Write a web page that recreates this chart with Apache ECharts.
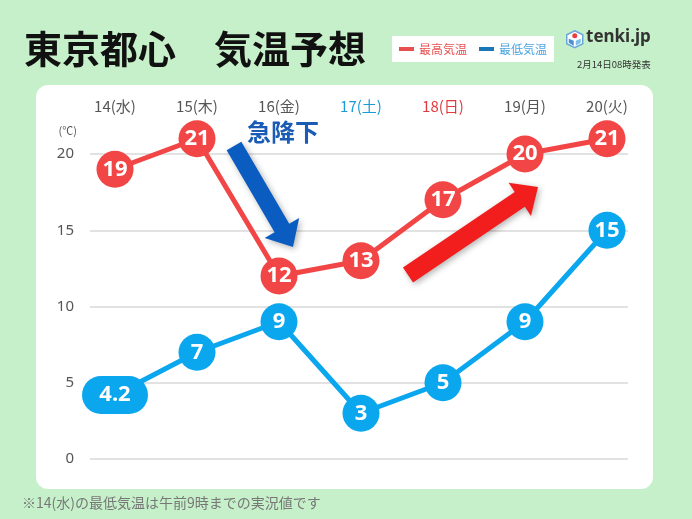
<!DOCTYPE html>
<html>
<head>
<meta charset="utf-8">
<script src="https://cdn.jsdelivr.net/npm/echarts@6/dist/echarts.min.js"></script>
<style>html,body{margin:0;padding:0;background:#c5f0c9;}#c{width:692px;height:519px;}</style>
</head>
<body>
<div id="c"></div>
<script>
const categories = ['14(水)', '15(木)', '16(金)', '17(土)', '18(日)', '19(月)', '20(火)'];
const categoryColors = ['#555555', '#555555', '#555555', '#1a9ad6', '#e0393e', '#555555', '#555555'];
const highTemps = [19, 21, 12, 13, 17, 20, 21];
const lowTemps = [4.2, 7, 9, 3, 5, 9, 15];
const yMin = 0, yMax = 20, yStep = 5;

const JP = '"Noto Sans CJK JP", "Noto Sans", sans-serif';
const RED = '#f24545';
const BLUE = '#0aa6ee';

function arrow(sx, sy, tx, ty, w, hw, hl) {
  const dx = tx - sx, dy = ty - sy;
  const L = Math.sqrt(dx * dx + dy * dy);
  const ux = dx / L, uy = dy / L;
  const nx = -uy, ny = ux;
  const bx = tx - ux * hl, by = ty - uy * hl;
  return [
    [sx + nx * w / 2, sy + ny * w / 2],
    [bx + nx * w / 2, by + ny * w / 2],
    [bx + nx * hw / 2, by + ny * hw / 2],
    [tx, ty],
    [bx - nx * hw / 2, by - ny * hw / 2],
    [bx - nx * w / 2, by - ny * w / 2],
    [sx - nx * w / 2, sy - ny * w / 2]
  ];
}

const chart = echarts.init(document.getElementById('c'));
const pill = 'path://M19,0 L47,0 A19,19 0 0 1 47,38 L19,38 A19,19 0 0 1 19,0 Z';

chart.setOption({
  backgroundColor: '#c5f0c9',
  animation: false,
  title: {
    text: '東京都心　気温予想',
    left: 19, top: 25,
    textStyle: { fontFamily: JP, fontSize: 38, fontWeight: 'bold', color: '#111' }
  },
  legend: {
    left: 392, top: 36,
    backgroundColor: '#ffffff',
    padding: [7, 7],
    itemGap: 12,
    itemWidth: 15, itemHeight: 4,
    icon: 'rect',
    textStyle: { fontFamily: JP, fontSize: 12 },
    data: [
      { name: '最高気温', itemStyle: { color: '#e8504f' }, textStyle: { color: '#e8504f' } },
      { name: '最低気温', itemStyle: { color: '#1b78b8' }, textStyle: { color: '#4aa5e0' } }
    ]
  },
  grid: [
    { left: 90, right: 64, top: 154, bottom: 60 },
    { left: 74, right: 44, top: 154, bottom: 60 }
  ],
  xAxis: [
    { type: 'category', gridIndex: 0, data: categories, show: false },
    {
      type: 'category', gridIndex: 1, position: 'top', boundaryGap: true,
      data: categories.map((c, i) => ({ value: c, textStyle: { color: categoryColors[i] } })),
      axisLine: { show: false }, axisTick: { show: false },
      axisLabel: { margin: 40, fontSize: 15, fontFamily: JP }
    }
  ],
  yAxis: [
    {
      type: 'value', gridIndex: 0, min: yMin, max: yMax, interval: yStep,
      axisLine: { show: false }, axisTick: { show: false },
      axisLabel: { margin: 16, fontSize: 15, color: '#555', fontFamily: 'Noto Sans, sans-serif' },
      splitLine: { lineStyle: { color: '#d8d8d8', width: 1.5 } },
      name: '(℃)', nameGap: 18,
      nameTextStyle: { fontSize: 11, color: '#555', align: 'right', padding: [0, 13, 0, 0], fontFamily: JP }
    },
    { type: 'value', gridIndex: 1, min: yMin, max: yMax, interval: yStep, show: false }
  ],
  series: [
    {
      name: '最高気温', type: 'line', xAxisIndex: 1, yAxisIndex: 1, clip: false, z: 4,
      data: highTemps,
      color: RED,
      lineStyle: { width: 5, color: RED },
      symbol: 'circle', symbolSize: 37,
      itemStyle: { color: RED },
      label: {
        show: true, position: 'inside', color: '#fff', fontSize: 22, fontWeight: 'bold',
        fontFamily: 'Noto Sans, sans-serif'
      }
    },
    {
      name: '最低気温', type: 'line', xAxisIndex: 1, yAxisIndex: 1, clip: false, z: 3,
      data: lowTemps.map((v, i) => i === 0 ? { value: v, symbol: pill, symbolSize: [66, 38] } : v),
      color: BLUE,
      lineStyle: { width: 5, color: BLUE },
      symbol: 'circle', symbolSize: 37,
      itemStyle: { color: BLUE },
      label: {
        show: true, position: 'inside', color: '#fff', fontSize: 22, fontWeight: 'bold',
        fontFamily: 'Noto Sans, sans-serif'
      }
    }
  ],
  graphic: [
    {
      type: 'rect', z: -10, silent: true,
      shape: { x: 36, y: 85, width: 617, height: 404, r: 12 },
      style: { fill: '#ffffff' }
    },
    {
      type: 'polygon', z: 1,
      shape: { points: arrow(234, 146, 293, 247, 17, 40, 22) },
      style: { fill: '#0a5cc0', shadowBlur: 6, shadowColor: 'rgba(0,0,0,0.3)', shadowOffsetX: 2, shadowOffsetY: 2 }
    },
    {
      type: 'polygon', z: 1,
      shape: { points: arrow(408, 275, 538, 187, 18, 40, 22) },
      style: { fill: '#f21e1e', shadowBlur: 6, shadowColor: 'rgba(0,0,0,0.3)', shadowOffsetX: 2, shadowOffsetY: 2 }
    },
    {
      type: 'text', z: 5, left: 247, top: 120,
      style: { text: '急降下', fill: '#1a5bb5', font: 'bold 24px ' + JP }
    },
    {
      type: 'text', z: 5, left: 22, top: 496,
      style: { text: '※14(水)の最低気温は午前9時までの実況値です', fill: '#777', font: '14px ' + JP }
    },
    {
      type: 'group', left: 566, top: 30,
      children: [
        { type: 'polygon', shape: { points: [[8, 0], [16, 4], [16, 13], [8, 17], [0, 13], [0, 4]] }, style: { fill: '#ffffff', stroke: '#6aa8dc', lineWidth: 1.5 } },
        { type: 'circle', shape: { cx: 8, cy: 5, r: 2.5 }, style: { fill: '#e84040' } },
        { type: 'polygon', shape: { points: [[2, 8], [7, 10], [7, 15], [2, 12]] }, style: { fill: '#4a90d0' } },
        { type: 'polygon', shape: { points: [[14, 8], [9, 10], [9, 15], [14, 12]] }, style: { fill: '#7ac0e8' } }
      ]
    },
    {
      type: 'text', left: 586, top: 29,
      style: { text: 'tenki.jp', fill: '#333', font: 'bold 17px "Noto Sans", sans-serif' }
    },
    {
      type: 'text', left: 577, top: 60,
      style: { text: '2月14日08時発表', fill: '#333', font: '9.5px ' + JP }
    }
  ]
});
</script>
</body>
</html>
